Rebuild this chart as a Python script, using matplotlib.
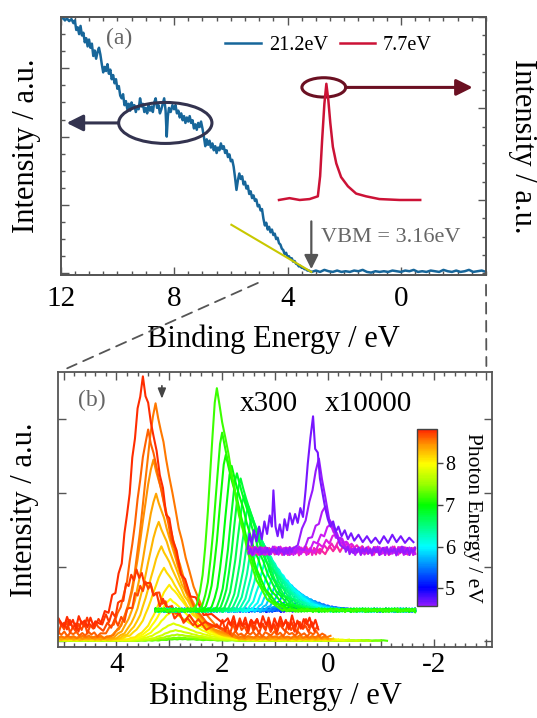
import numpy as np
import matplotlib.pyplot as plt
from matplotlib.colors import LinearSegmentedColormap, ListedColormap, Normalize
from matplotlib.cm import ScalarMappable
from matplotlib.patches import Ellipse, FancyArrowPatch, ConnectionPatch
from matplotlib.ticker import MultipleLocator, FuncFormatter

plt.rcParams['font.family'] = ['Liberation Serif', 'DejaVu Serif']
plt.rcParams['axes.unicode_minus'] = False

# ---------------- panel (a) data ----------------
# He I (21.2 eV) spectrum, binding energy / intensity (left axis)
he_be = [12.00, 11.92, 11.85, 11.78, 11.70, 11.62, 11.55, 11.50, 11.45, 11.40,
         11.35, 11.30, 11.25, 11.20, 11.15, 11.10, 11.05, 11.00, 10.95, 10.90,
         10.85, 10.80, 10.75, 10.70, 10.65, 10.60, 10.55, 10.50, 10.45, 10.40,
         10.35, 10.30, 10.25, 10.20, 10.15, 10.10, 10.05, 10.00, 9.95, 9.90,
         9.85, 9.80, 9.75, 9.70, 9.65, 9.60, 9.55, 9.50, 9.45, 9.40,
         9.35, 9.30, 9.25, 9.20, 9.15, 9.10, 9.05, 9.00, 8.95, 8.90,
         8.85, 8.80, 8.75, 8.70, 8.65, 8.60, 8.55, 8.50, 8.45, 8.40,
         8.35, 8.30, 8.26, 8.22, 8.18, 8.12, 8.06, 8.00, 7.95, 7.90,
         7.85, 7.80, 7.75, 7.70, 7.65, 7.60, 7.55, 7.50, 7.45, 7.40,
         7.35, 7.30, 7.25, 7.20, 7.15, 7.10, 7.05, 7.00, 6.95, 6.90,
         6.85, 6.80, 6.75, 6.70, 6.65, 6.60, 6.55, 6.50, 6.45, 6.40,
         6.35, 6.30, 6.25, 6.20, 6.15, 6.10, 6.05, 6.00, 5.95, 5.90,
         5.85, 5.80, 5.75, 5.70, 5.65, 5.60, 5.55, 5.50, 5.45, 5.40,
         5.35, 5.30, 5.25, 5.20, 5.15, 5.10, 5.05, 5.00, 4.95, 4.90,
         4.85, 4.80, 4.75, 4.70, 4.65, 4.60, 4.55, 4.50, 4.45, 4.40,
         4.35, 4.30, 4.25, 4.20, 4.15, 4.10, 4.05, 4.00, 3.95, 3.90,
         3.85, 3.80, 3.75, 3.70, 3.65, 3.60, 3.55, 3.50, 3.45, 3.40,
         3.35, 3.30, 3.25, 3.20, 3.15, 3.00, 2.85, 2.70, 2.55, 2.40,
         2.25, 2.10, 1.95, 1.80, 1.65, 1.50, 1.35, 1.20, 1.05, 0.90,
         0.75, 0.60, 0.45, 0.30, 0.15, 0.00, -0.15, -0.30, -0.45, -0.60,
         -0.75, -0.90, -1.05, -1.20, -1.35, -1.50, -1.65, -1.80, -1.95, -2.10,
         -2.25, -2.40, -2.55, -2.70, -2.85, -3.00]
he_int = [3.72, 3.74, 3.70, 3.73, 3.69, 3.72, 3.66, 3.70, 3.56, 3.60,
          3.50, 3.62, 3.48, 3.52, 3.38, 3.44, 3.32, 3.42, 3.30, 3.36,
          3.18, 3.26, 3.14, 3.24, 3.30, 3.20, 3.06, 2.94, 3.02, 2.96,
          3.06, 2.92, 2.98, 2.84, 2.90, 2.78, 2.84, 2.70, 2.74, 2.60,
          2.56, 2.62, 2.46, 2.52, 2.40, 2.48, 2.38, 2.50, 2.42, 2.46,
          2.36, 2.44, 2.40, 2.56, 2.44, 2.48, 2.36, 2.42, 2.34, 2.46,
          2.38, 2.44, 2.36, 2.50, 2.56, 2.42, 2.46, 2.34, 2.40, 2.48,
          2.56, 2.38, 2.00, 2.30, 2.42, 2.36, 2.46, 2.40, 2.46, 2.34,
          2.38, 2.28, 2.34, 2.24, 2.30, 2.20, 2.28, 2.22, 2.30, 2.20,
          2.24, 2.12, 2.18, 2.10, 2.20, 2.14, 2.22, 2.12, 2.00, 1.86,
          1.96, 1.88, 1.94, 1.84, 1.90, 1.80, 1.86, 1.76, 1.84, 1.80,
          1.90, 1.82, 1.86, 1.76, 1.80, 1.70, 1.74, 1.64, 1.66, 1.56,
          1.40, 1.22, 1.36, 1.46, 1.38, 1.42, 1.30, 1.34, 1.24, 1.28,
          1.16, 1.20, 1.10, 1.14, 1.06, 1.08, 0.98, 1.00, 0.92, 0.94,
          0.80, 0.70, 0.74, 0.64, 0.68, 0.60, 0.64, 0.56, 0.58, 0.50,
          0.52, 0.44, 0.42, 0.36, 0.34, 0.28, 0.30, 0.24, 0.25, 0.21,
          0.22, 0.17, 0.18, 0.14, 0.13, 0.10, 0.11, 0.08, 0.08, 0.06,
          0.06, 0.04, 0.04, 0.03, 0.02, 0.04, 0.02, 0.05, 0.03, 0.02,
          0.04, 0.02, 0.03, 0.02, 0.04, 0.03, 0.05, 0.02, 0.01, 0.03,
          0.02, 0.03, 0.02, 0.04, 0.03, 0.02, 0.04, 0.03, 0.05, 0.02,
          0.03, 0.02, 0.04, 0.03, 0.02, 0.05, 0.03, 0.02, 0.04, 0.02,
          0.03, 0.05, 0.02, 0.03, 0.04, 0.02]

# 7.7 eV spectrum (right axis)
xe_be = [4.30, 3.93, 3.57, 3.22, 2.93, 2.85, 2.78, 2.70, 2.63, 2.56,
         2.49, 2.40, 2.28, 2.11, 1.87, 1.58, 1.23, 0.76, 0.05, -0.68]
xe_int = [0.00, 0.02, 0.00, 0.01, 0.04, 0.26, 0.65, 1.05, 1.27, 1.09,
          0.84, 0.58, 0.40, 0.25, 0.15, 0.07, 0.04, 0.01, 0.00, 0.00]

vbm_fit_be = [5.98, 3.16]
vbm_fit_int = [0.71, 0.02]
vbm = 3.16

# ---------------- panel (b) data ----------------
# normalised peak shapes (offset from peak / relative intensity / noise)
tmplA_de = [0.90, 0.80, 0.72, 0.65, 0.58, 0.52, 0.46, 0.40, 0.35, 0.30,
            0.25, 0.20, 0.15, 0.10, 0.05, 0.00, -0.05, -0.10, -0.15, -0.20,
            -0.26, -0.32, -0.38, -0.44, -0.50, -0.57, -0.64, -0.72, -0.80, -0.90,
            -1.00, -1.15, -1.30, -1.50]
tmplA_y = [0.00, 0.01, 0.03, 0.05, 0.09, 0.14, 0.19, 0.27, 0.35, 0.44,
           0.55, 0.65, 0.76, 0.86, 0.95, 1.00, 0.94, 0.88, 0.84, 0.76,
           0.68, 0.62, 0.54, 0.47, 0.41, 0.34, 0.28, 0.22, 0.17, 0.12,
           0.08, 0.05, 0.03, 0.01]
tmplA_wig = [0.2, -0.5, 0.6, -0.3, 0.8, -0.6, 0.4, -0.9, 0.5, 0.1,
             -0.7, 0.9, -0.2, 0.6, -0.8, 0.3, -0.4, 0.7, -0.6, 0.2,
             0.8, -0.5, 0.4, -0.9, 0.6, -0.1, 0.5, -0.7, 0.3, -0.4,
             0.8, -0.6, 0.2, -0.3]

tmplB_de = [0.45, 0.38, 0.32, 0.27, 0.22, 0.17, 0.12, 0.08, 0.04, 0.00,
            -0.05, -0.10, -0.16, -0.22, -0.28, -0.35, -0.42, -0.50, -0.58, -0.66,
            -0.75, -0.85, -0.95, -1.10, -1.25]
tmplB_y = [0.00, 0.03, 0.08, 0.16, 0.28, 0.45, 0.64, 0.80, 0.93, 1.00,
           0.93, 0.84, 0.78, 0.70, 0.62, 0.52, 0.43, 0.35, 0.27, 0.20,
           0.14, 0.09, 0.05, 0.02, 0.00]
tmplB_wig = [0.3, -0.6, 0.5, -0.2, 0.7, -0.5, 0.2, -0.8, 0.6, 0.0,
             -0.6, 0.8, -0.3, 0.5, -0.7, 0.4, -0.5, 0.6, -0.4, 0.3,
             -0.6, 0.5, -0.2, 0.4, -0.3]

tmplC_de = [0.50, 0.40, 0.32, 0.25, 0.18, 0.12, 0.06, 0.00, -0.06, -0.12,
            -0.20, -0.30, -0.40, -0.50]
tmplC_y = [0.00, 0.10, 0.20, 0.35, 0.50, 0.70, 0.85, 1.00, 0.80, 0.55,
           0.35, 0.20, 0.10, 0.00]
tmplC_wig = [0.5, -0.8, 0.9, -0.4, 0.7, -0.9, 0.3, 0.0, -0.6, 0.8,
             -0.5, 0.9, -0.7, 0.4]

bg_noise = [0.3, -0.6, 0.8, -0.2, 0.5, -0.9, 0.1, 0.7, -0.4, 0.9,
            -0.7, 0.2, -0.1, 0.6, -0.8, 0.4, -0.3, 1.0, -0.5, 0.0,
            0.7, -0.9, 0.3, -0.2, 0.8, -0.6, 0.5, -1.0, 0.2, 0.6,
            -0.3, 0.9, -0.7, 0.1, -0.4, 0.7, -0.8, 0.4, -0.1, 0.5,
            -0.6, 0.9, -0.2, 0.3, -0.9, 0.6, -0.5, 0.8, -0.3, 0.2,
            -0.7, 1.0, -0.4, 0.1, -0.8, 0.5, -0.2, 0.7, -0.6, 0.4,
            -0.9, 0.6, 0.0, -0.5, 0.8, -0.3, 0.4, -0.8, 0.9, -0.1,
            0.3, -0.6, 0.7, -0.4, 0.2, -0.9, 0.5, -0.2, 1.0, -0.7,
            0.1, -0.5, 0.6, -0.3, 0.8, -0.8, 0.4, -0.1, 0.7, -0.6]

# group A: unscaled spectra
grpA_hv = [7.25, 7.40, 7.60, 7.76, 7.84, 7.92, 8.00, 8.08, 8.16, 8.24,
           8.32, 8.40, 8.48, 8.55, 8.62, 8.70, 8.75, 8.80]
grpA_peak = [2.80, 2.82, 2.85, 2.88, 2.92, 2.95, 2.98, 3.00, 3.10, 3.15,
             3.20, 3.25, 3.30, 3.26, 3.40, 3.45, 3.62, 3.50]
grpA_height = [0.02, 0.04, 0.08, 0.14, 0.22, 0.38, 0.55, 0.74, 0.96, 1.25,
               1.58, 1.95, 2.40, 3.15, 2.75, 0.60, 0.72, 3.30]
grpA_base = [0.01, 0.01, 0.01, 0.01, 0.02, 0.02, 0.02, 0.02, 0.03, 0.03,
             0.03, 0.04, 0.05, 0.06, 0.10, 0.18, 0.22, 0.25]
grpA_noise = [0.005, 0.005, 0.005, 0.005, 0.005, 0.008, 0.008, 0.01, 0.01, 0.012,
              0.012, 0.015, 0.015, 0.02, 0.04, 0.09, 0.10, 0.10]
grpA_end = [-1.12, -1.0, -0.8, -0.6, -0.4, -0.3, -0.2, -0.15, -0.1, -0.1,
            -0.05, 0.0, 0.0, -0.05, 0.05, 0.20, 0.25, 0.18]
grpA_start = 5.1

# group B: x300
grpB_hv = [4.80, 4.90, 5.00, 5.10, 5.20, 5.30, 5.40, 5.50, 5.60, 5.70,
           5.80, 5.90, 6.00, 6.10, 6.20, 6.30, 6.40, 6.50, 6.60, 6.70,
           6.80, 6.88, 6.96, 7.04, 7.12, 7.20]
grpB_peak = [0.12, 0.20, 0.28, 0.35, 0.42, 0.50, 0.58, 0.66, 0.74, 0.82,
             0.90, 0.98, 1.06, 1.14, 1.22, 1.29, 1.36, 1.43, 1.50, 1.58,
             1.65, 1.72, 1.82, 1.93, 2.00, 2.10]
grpB_height = [0.02, 0.03, 0.05, 0.07, 0.10, 0.14, 0.19, 0.25, 0.31, 0.38,
               0.46, 0.55, 0.65, 0.76, 0.88, 1.00, 1.12, 1.25, 1.40, 1.55,
               1.78, 1.85, 1.95, 2.10, 2.40, 3.00]
grpB_base = 0.42
grpB_start = 3.26
grpB_end = -1.65

# group C: x10000
grpC_hv = [4.05, 4.15, 4.25, 4.35, 4.45, 4.55]
grpC_peak = [-0.35, -0.25, -0.15, -0.05, 0.05, 0.17]
grpC_height = [0.06, 0.12, 0.22, 0.36, 0.60, 1.25]
grpC_base = 1.22
grpC_start = 1.50
grpC_end = -1.65

grpC_top_hv = 4.65
grpC_top_be = [1.52, 1.48, 1.44, 1.40, 1.35, 1.30, 1.25, 1.20, 1.15, 1.10,
               1.06, 1.03, 0.99, 0.95, 0.91, 0.86, 0.82, 0.77, 0.72, 0.67,
               0.62, 0.57, 0.52, 0.47, 0.42, 0.38, 0.33, 0.28, 0.24, 0.19,
               0.15, 0.10, 0.05, 0.00, -0.05, -0.10, -0.15, -0.20, -0.26, -0.32,
               -0.38, -0.44, -0.50, -0.58, -0.66, -0.74, -0.82, -0.90, -0.98, -1.06,
               -1.14, -1.22, -1.30, -1.38, -1.46, -1.54, -1.62]
grpC_top_int = [1.25, 1.45, 1.30, 1.50, 1.35, 1.55, 1.38, 1.62, 1.45, 1.70,
                1.55, 2.04, 1.55, 1.42, 1.58, 1.40, 1.65, 1.50, 1.73, 1.58,
                1.72, 1.60, 1.80, 1.68, 2.05, 2.40, 2.75, 3.04, 2.60, 2.55,
                2.20, 2.00, 1.80, 1.65, 1.55, 1.62, 1.48, 1.55, 1.42, 1.50,
                1.38, 1.46, 1.36, 1.44, 1.34, 1.42, 1.33, 1.40, 1.32, 1.42,
                1.33, 1.44, 1.34, 1.42, 1.33, 1.40, 1.34]

# colour scale for photon energy
cmap_hv = [4.00, 4.30, 4.58, 5.00, 5.50, 6.00, 7.00, 7.50, 8.00, 8.45, 8.82]
cmap_rgb = [(1.0, 0.15, 0.55), (0.85, 0.10, 0.95), (0.55, 0.10, 1.0), (0.0, 0.0, 1.0),
            (0.0, 0.5, 1.0), (0.0, 1.0, 1.0), (0.0, 1.0, 0.0), (0.6, 1.0, 0.0),
            (1.0, 1.0, 0.0), (1.0, 0.6, 0.0), (1.0, 0.15, 0.0)]
cbar_range = (4.58, 8.82)


def build_curve(peak, height, base, noise, start, end, de, ty, wig, shift):
    px = peak + np.array(de)
    py = base + height * np.array(ty) + noise * np.array(wig)
    keep = (px <= start) & (px >= end)
    px, py = px[keep], py[keep]
    gx = np.linspace(start, end, len(bg_noise))
    gy = base + noise * np.roll(bg_noise, shift)
    outside = (gx > px.max()) | (gx < px.min())
    x = np.concatenate([gx[outside], px])
    y = np.concatenate([gy[outside], py])
    order = np.argsort(-x)
    return x[order], y[order]


def style_spines(ax):
    for sp in ax.spines.values():
        sp.set_color('#555555')
        sp.set_linewidth(1.3)


def main():
    lo, hi = cmap_hv[0], cmap_hv[-1]
    pos = [(h - lo) / (hi - lo) for h in cmap_hv]
    cmap = LinearSegmentedColormap.from_list('photon', list(zip(pos, cmap_rgb)))
    norm = Normalize(lo, hi)

    fig = plt.figure(figsize=(5.37, 7.18), dpi=100)
    ax_a = fig.add_axes([0.1130, 0.6170, 0.7920, 0.3593])
    ax_b = fig.add_axes([0.1086, 0.0993, 0.8070, 0.3822])
    cax = fig.add_axes([0.7771, 0.1564, 0.0361, 0.2457])

    # ---------- panel (a) ----------
    line_he, = ax_a.plot(he_be, he_int, color='#17669a', lw=1.8, label='21.2eV')
    ax_a.plot(vbm_fit_be, vbm_fit_int, color='#c8c800', lw=1.5, zorder=3)
    ax_a.set_xlim(12, -3)
    ax_a.set_ylim(-0.025, 3.75)
    ax_a.xaxis.set_major_locator(MultipleLocator(4))
    ax_a.xaxis.set_minor_locator(MultipleLocator(0.5))
    ax_a.yaxis.set_major_locator(MultipleLocator(1))
    ax_a.yaxis.set_minor_locator(MultipleLocator(0.25))
    ax_a.tick_params(which='both', direction='in', top=True, right=False,
                     labelleft=False, color='#555555', width=1)
    ax_a.tick_params(which='major', length=6, labelsize=21, pad=8)
    ax_a.tick_params(which='minor', length=3)
    ax_a.set_xlabel('Binding Energy / eV', fontsize=22, labelpad=9)
    ax_a.set_ylabel('Intensity / a.u.', fontsize=22, labelpad=14)
    style_spines(ax_a)

    ax_a2 = ax_a.twinx()
    line_xe, = ax_a2.plot(xe_be, xe_int, color='#cc1236', lw=1.8, label='7.7eV')
    ax_a2.set_ylim(-0.82, 2.0)
    ax_a2.yaxis.set_major_locator(MultipleLocator(1))
    ax_a2.yaxis.set_minor_locator(MultipleLocator(0.2))
    ax_a2.tick_params(which='both', direction='in', labelright=False,
                      color='#555555', width=1)
    ax_a2.tick_params(which='major', length=6)
    ax_a2.tick_params(which='minor', length=3)
    ax_a2.set_ylabel('Intensity / a.u.', fontsize=22, rotation=270, va='bottom', labelpad=16)
    style_spines(ax_a2)

    ax_a2.legend(handles=[line_he, line_xe], loc='center', bbox_to_anchor=(0.63, 0.89),
                 ncol=2, frameon=False, fontsize=14.5, handlelength=1.75,
                 columnspacing=0.6, handletextpad=0.4)

    ax_a.text(10.4, 3.43, '(a)', fontsize=17, color='#666666', va='center', ha='left')

    # circles and arrows pointing to their axes
    navy = '#33334f'
    ax_a.add_patch(Ellipse((8.31, 2.20), 3.29, 0.60, fill=False, ec=navy, lw=2.2, zorder=4))
    ax_a.add_patch(FancyArrowPatch((9.96, 2.20), (11.79, 2.20), color=navy, lw=2.2,
                                   arrowstyle='-|>,head_length=0.7,head_width=0.35',
                                   mutation_scale=14, shrinkA=0, shrinkB=0, zorder=4))
    maroon = '#6b1022'
    ax_a.add_patch(Ellipse((2.72, 2.72), 1.545, 0.283, fill=False, ec=maroon, lw=2.2, zorder=4))
    ax_a.add_patch(FancyArrowPatch((1.95, 2.72), (-2.53, 2.72), color=maroon, lw=2.2,
                                   arrowstyle='-|>,head_length=0.7,head_width=0.35',
                                   mutation_scale=14, shrinkA=0, shrinkB=0, zorder=4))

    ax_a.annotate('', xy=(vbm, 0.02), xytext=(vbm, 0.80),
                  arrowprops=dict(arrowstyle='-|>,head_length=0.6,head_width=0.3',
                                  color='#555555', lw=1.6, mutation_scale=14))
    ax_a.text(2.81, 0.52, 'VBM = 3.16eV', fontsize=16, color='#666666', va='center', ha='left')

    # ---------- panel (b) ----------
    for i in range(len(grpA_hv)):
        x, y = build_curve(grpA_peak[i], grpA_height[i], grpA_base[i], grpA_noise[i],
                           grpA_start, grpA_end[i], tmplA_de, tmplA_y, tmplA_wig, i * 7)
        ax_b.plot(x, y, color=cmap(norm(grpA_hv[i])), lw=1.5)

    for i in range(len(grpB_hv)):
        x, y = build_curve(grpB_peak[i], grpB_height[i], grpB_base, 0.025,
                           grpB_start, grpB_end, tmplB_de, tmplB_y, tmplB_wig, i * 11)
        ax_b.plot(x, y, color=cmap(norm(grpB_hv[i])), lw=1.5)

    for i in range(len(grpC_hv)):
        x, y = build_curve(grpC_peak[i], grpC_height[i], grpC_base, 0.06,
                           grpC_start, grpC_end, tmplC_de, tmplC_y, tmplC_wig, i * 13)
        ax_b.plot(x, y, color=cmap(norm(grpC_hv[i])), lw=1.5)
    ax_b.plot(grpC_top_be, grpC_top_int, color=cmap(norm(grpC_top_hv)), lw=1.5)

    ax_b.set_xlim(5.1, -3.1)
    ax_b.set_ylim(-0.073, 3.635)
    ax_b.xaxis.set_major_locator(MultipleLocator(1))
    ax_b.xaxis.set_minor_locator(MultipleLocator(0.2))
    ax_b.xaxis.set_major_formatter(FuncFormatter(
        lambda v, p: '%d' % round(v) if round(v) % 2 == 0 else ''))
    ax_b.yaxis.set_major_locator(MultipleLocator(1))
    ax_b.tick_params(which='both', direction='in', top=True, right=True,
                     labelleft=False, color='#555555', width=1)
    ax_b.tick_params(which='major', length=6, labelsize=21, pad=4)
    ax_b.tick_params(which='minor', length=3)
    ax_b.set_xlabel('Binding Energy / eV', fontsize=22, labelpad=2)
    ax_b.set_ylabel('Intensity / a.u.', fontsize=22, labelpad=14)
    style_spines(ax_b)

    ax_b.text(4.72, 3.26, '(b)', fontsize=17, color='#666666', va='center', ha='left')
    ax_b.text(1.66, 3.20, 'x300', fontsize=21, va='center', ha='left')
    ax_b.text(0.06, 3.20, 'x10000', fontsize=21, va='center', ha='left')
    ax_b.annotate('', xy=(3.14, 3.24), xytext=(3.14, 3.49),
                  arrowprops=dict(arrowstyle='-|>,head_length=0.5,head_width=0.2',
                                  color='#444444', lw=1.2, mutation_scale=12))

    # colour bar
    cb_cmap = ListedColormap(cmap(np.linspace(norm(cbar_range[0]), 1, 256)))
    sm = ScalarMappable(norm=Normalize(*cbar_range), cmap=cb_cmap)
    cbar = fig.colorbar(sm, cax=cax, ticks=[5, 6, 7, 8])
    cbar.outline.set_edgecolor('#444444')
    cbar.outline.set_linewidth(1)
    cbar.ax.tick_params(labelsize=14.5, length=4, width=1, color='#444444', pad=2)
    cbar.set_label('Photon Energy / eV', fontsize=15.5, rotation=270, va='bottom', labelpad=6)

    # dashed guides linking (a) to (b)
    guide = dict(color='#555555', lw=1.3, linestyle=(0, (6, 4)))
    con1 = ConnectionPatch(xyA=(4.42, 0), coordsA=ax_a.get_xaxis_transform(),
                           xyB=(5.1, 1), coordsB=ax_b.get_xaxis_transform(),
                           shrinkA=14, shrinkB=7, **guide)
    con2 = ConnectionPatch(xyA=(-3.0, 0), coordsA=ax_a.get_xaxis_transform(),
                           xyB=(-3.0, 1), coordsB=ax_b.get_xaxis_transform(),
                           shrinkA=7, shrinkB=4.5, **guide)
    fig.add_artist(con1)
    fig.add_artist(con2)

    fig.savefig('out.png', dpi=100)
    plt.close(fig)


if __name__ == '__main__':
    main()
